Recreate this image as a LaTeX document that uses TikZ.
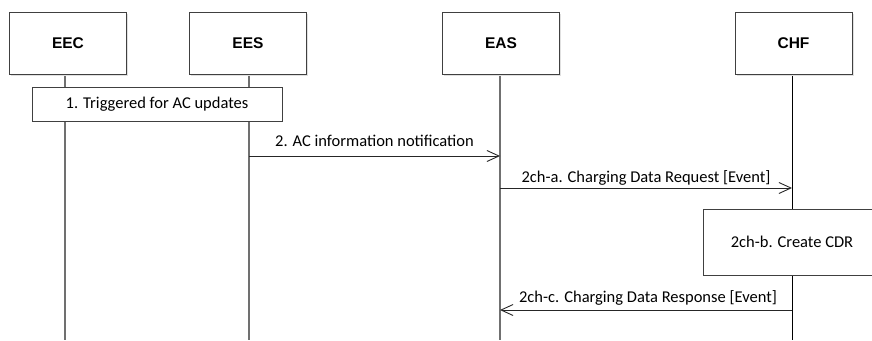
\documentclass[tikz,border=0pt]{standalone}
\usepackage{fontspec}
\setmainfont{Carlito}
\newfontfamily\headfont{Liberation Sans}
\usetikzlibrary{arrows.meta,shadows}
\definecolor{lifegray}{HTML}{707070}
\definecolor{boxgray}{HTML}{404040}
\tikzset{
  actor/.style={draw=boxgray, line width=0.9pt, fill=white, minimum width=117pt, minimum height=62pt,
    font=\headfont\bfseries\fontsize{15.5}{18}\selectfont, inner sep=0pt,
    general shadow={shadow xshift=1.5pt, shadow yshift=-1.5pt, fill=black!12}},
  lifeline/.style={draw=lifegray, line width=1.1pt},
  lifelineblack/.style={draw=black, line width=0.9pt},
  stepbox/.style={draw=boxgray, line width=0.9pt, fill=white, inner sep=0pt,
    font=\fontsize{16.5}{19}\selectfont},
  msg/.style={draw=black!85, line width=0.9pt, -{Straight Barb[length=12pt,width=11pt,line width=0.9pt]}},
  msglabel/.style={anchor=base, inner sep=0pt, font=\fontsize{16.5}{19}\selectfont}
}
\begin{document}
\begin{tikzpicture}[x=1pt,y=-1pt]
\useasboundingbox (0,0) rectangle (872,340);
% lifeline bottoms
\coordinate (eecB) at (65,340);
\coordinate (eesB) at (249,340);
\coordinate (easB) at (500,340);
\coordinate (chfB) at (792,340);
% lifelines
\draw[lifeline] (65,74) -- (eecB);
\draw[lifeline] (249,74) -- (eesB);
\draw[lifeline] (500,74) -- (easB);
\draw[lifelineblack] (792,74) -- (chfB);
% actors
\node[actor] (eec) at (68,43.5) {EEC};
\node[actor] (ees) at (248,43.5) {EES};
\node[actor] (eas) at (501,43.5) {EAS};
\node[actor] (chf) at (793.5,43.5) {CHF};
% step 1
\node[stepbox, minimum width=250pt, minimum height=34pt] (s1) at (157,104) {1. Triggered for AC updates};
% message 2
\coordinate (m2s) at (249,156);
\coordinate (m2e) at (500,156);
\draw[msg] (m2s) -- (m2e);
\node[msglabel] (l2) at (374.5,146) {2. AC information notification};
% message 2ch-a
\coordinate (mas) at (500,188);
\coordinate (mae) at (792,188);
\draw[msg] (mas) -- (mae);
\node[msglabel] (la) at (646,182) {2ch-a. Charging Data Request [Event]};
% step 2ch-b
\node[stepbox, minimum width=178pt, minimum height=66pt] (sb) at (792,242) {2ch-b. Create CDR};
% message 2ch-c
\coordinate (mcs) at (792,310);
\coordinate (mce) at (500,310);
\draw[msg] (mcs) -- (mce);
\node[msglabel] (lc) at (648,302) {2ch-c. Charging Data Response [Event]};
\end{tikzpicture}
\end{document}
